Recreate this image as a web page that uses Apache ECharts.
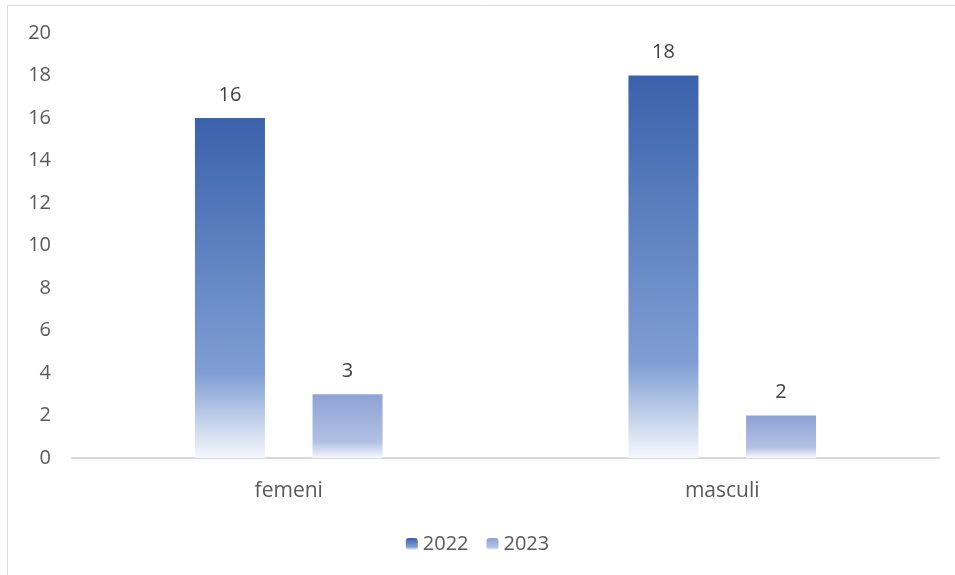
<!DOCTYPE html>
<html lang="ro">
<head>
    <meta charset="utf-8">
    <title>femeni / masculi</title>
    <script src="https://cdn.jsdelivr.net/npm/echarts@6/dist/echarts.min.js"></script>
    <style>
        html, body { margin: 0; padding: 0; background: #fff; }
        #main { width: 955px; height: 575px; }
    </style>
</head>
<body>
<div id="main"></div>
<script type="text/javascript">
    // date
    var categories = ['femeni', 'masculi'];
    var seriesNames = ['2022', '2023'];
    var values2022 = [16, 18];
    var values2023 = [3, 2];

    var font = "'Open Sans', 'Liberation Sans', sans-serif";

    function grad(top, mid, bottom) {
        return new echarts.graphic.LinearGradient(0, 0, 0, 1, [
            { offset: 0, color: top },
            { offset: 0.75, color: mid },
            { offset: 1, color: bottom }
        ]);
    }

    var myChart = echarts.init(document.getElementById('main'));

    var option = {
        animation: false,
        textStyle: { fontFamily: font },
        graphic: [{
            type: 'rect',
            shape: { x: 7.5, y: 5.5, width: 1200, height: 1200 },
            style: { fill: 'none', stroke: '#d9d9d9', lineWidth: 1 },
            silent: true
        }],
        grid: { left: 72, right: 16, top: 33, bottom: 117 },
        legend: {
            bottom: 16,
            left: 'center',
            itemWidth: 12,
            itemHeight: 12,
            itemGap: 18,
            textStyle: { fontSize: 20, color: '#595959', fontFamily: font },
            data: seriesNames
        },
        xAxis: {
            type: 'category',
            data: categories,
            axisLine: { lineStyle: { color: '#d9d9d9', width: 2 } },
            axisTick: { show: false },
            axisLabel: { fontSize: 21, color: '#595959', margin: 23 }
        },
        yAxis: {
            type: 'value',
            min: 0,
            max: 20,
            interval: 2,
            axisLine: { show: false },
            axisTick: { show: false },
            splitLine: { show: false },
            axisLabel: { fontSize: 20, color: '#595959', margin: 21 }
        },
        series: [{
            name: seriesNames[0],
            type: 'bar',
            barWidth: 70,
            barGap: '68%',
            data: values2022,
            itemStyle: { color: grad('#3A62AB', '#7F9ED3', '#F6F8FC') },
            label: { show: true, position: 'top', distance: 13, fontSize: 20, color: '#404040' }
        }, {
            name: seriesNames[1],
            type: 'bar',
            barWidth: 70,
            data: values2023,
            itemStyle: { color: grad('#8EA2D4', '#B2C0E3', '#F6F8FC') },
            label: { show: true, position: 'top', distance: 13, fontSize: 20, color: '#404040' }
        }]
    };

    myChart.setOption(option);
</script>
</body>
</html>
